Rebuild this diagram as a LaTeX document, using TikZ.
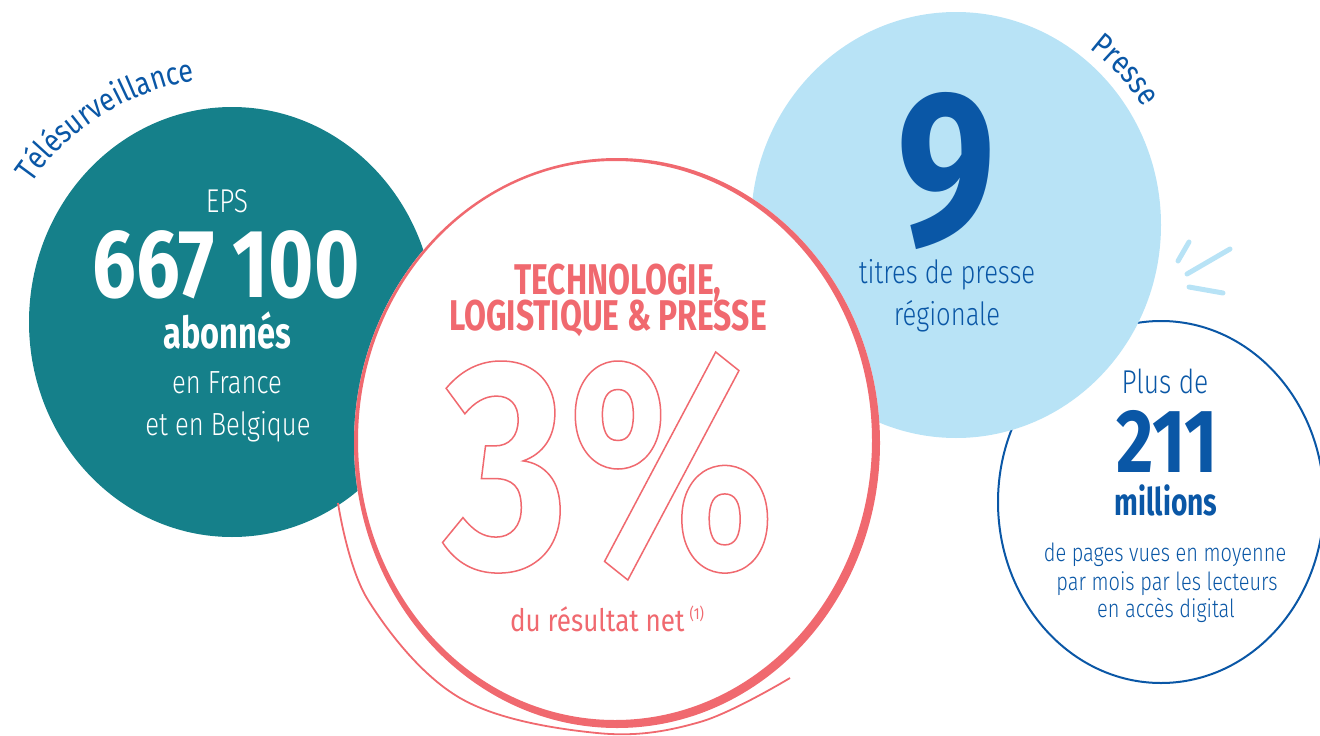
\documentclass[tikz,border=0pt]{standalone}
\usepackage{fontspec}
\setmainfont{Fira Sans}
\newfontfamily\lightfont[FakeStretch=0.80]{Fira Sans Light}
\newfontfamily\heavyfont[FakeStretch=0.74]{Fira Sans Bold}
\newfontfamily\numfont[FakeStretch=0.80]{Fira Sans Bold}
\newfontfamily\handfont[FakeStretch=0.84]{Fira Sans}
\usetikzlibrary{decorations.text}

\definecolor{eteal}{HTML}{15808A}
\definecolor{epink}{HTML}{F0696F}
\definecolor{eblue}{HTML}{0A57A6}
\definecolor{esky}{HTML}{B8E3F6}

% stroked (hollow) glyphs
\newcommand\hollow[1]{\raisebox{0pt}[\height][0pt]{\special{pdf:literal direct 1 Tr 1.5 w}#1\special{pdf:literal direct 0 Tr}}}

\tikzset{
  lighttxt/.style={font=\lightfont\fontsize{#1}{#1}\selectfont, inner sep=0pt, anchor=base},
  heavytxt/.style={font=\heavyfont\fontsize{#1}{#1}\selectfont, inner sep=0pt, anchor=base},
  numtxt/.style={font=\numfont\fontsize{#1}{#1}\selectfont, inner sep=0pt, anchor=base},
  handtxt/.style={font=\handfont\fontsize{#1}{#1}\selectfont, inner sep=0pt, anchor=base},
}

\begin{document}
\begin{tikzpicture}[x=1pt,y=1pt]
    \useasboundingbox (0,0) rectangle (1320,-736);

    % discs
    \draw[eblue, line width=2, fill=white] (1161,-502) ellipse [x radius=163, y radius=181];
    \fill[esky] (956,-225) ellipse [x radius=205, y radius=213];
    \fill[eteal] (232,-322) ellipse [x radius=203, y radius=215];
    \fill[white] (617,-443) ellipse [x radius=263, y radius=285];
    \fill[epink, even odd rule] (617,-443) ellipse [x radius=263, y radius=285]
        (615,-440.5) ellipse [x radius=257, y radius=279.5];
    \draw[epink, line width=1.8] plot[smooth, tension=0.6] coordinates
        {(338,-503) (368,-600) (460,-698) (597,-733) (700,-722) (790,-678)};

    % little strokes
    \draw[esky, line width=5, line cap=round] (1189,-242) -- (1178,-261);
    \draw[esky, line width=5, line cap=round] (1230,-249) -- (1187,-274);
    \draw[esky, line width=5, line cap=round] (1189,-287) -- (1223,-293);

    % curved titles
    \path[decorate, decoration={text along path, text align=center,
        text format delimiters={|}{|},
        text={|\handfont\fontsize{32}{32}\selectfont\color{eblue}|Télésurveillance}}]
        (232,-322) ++(157:244) arc[start angle=157, end angle=87, radius=244];
    \path[decorate, decoration={text along path, text align=center,
        text format delimiters={|}{|},
        text={|\handfont\fontsize{32}{32}\selectfont\color{eblue}|Presse}}]
        (956,-225) ++(70:221) arc[start angle=70, end angle=15, radius=221];

    % EPS
    \node[lighttxt=33, text=white] (eps) at (227,-212) {EPS};
    \node[numtxt=97, text=white] (subs) at (226,-297) {667 100};
    \node[heavytxt=44, text=white] (abon) at (227,-348) {abonnés};
    \node[lighttxt=32, text=white] (fr) at (227,-393) {en France};
    \node[lighttxt=32, text=white] (be) at (228,-435) {et en Belgique};

    % result
    \node[heavytxt=43, text=epink] (tech) at (618,-294) {TECHNOLOGIE,};
    \node[heavytxt=43, text=epink] (logi) at (608,-330) {LOGISTIQUE \& PRESSE};
    \node[numtxt=300, text=epink] (pct) at (609,-568) {\hollow{3\%}};
    \node[handtxt=31, text=epink] (net) at (607,-631)
        {du résultat net\,\raisebox{12pt}{\fontsize{16}{16}\selectfont(1)}};

    % presse
    \node[numtxt=219, text=eblue] (nine) at (947,-243) {9};
    \node[lighttxt=32, text=eblue] (titles) at (947,-283) {titres de presse};
    \node[lighttxt=32, text=eblue] (reg) at (947,-325) {régionale};

    % pages
    \node[lighttxt=33, text=eblue] (plus) at (1165,-393) {Plus de};
    \node[numtxt=90, text=eblue] (views) at (1167,-472) {211};
    \node[heavytxt=38, text=eblue] (mill) at (1166,-515) {millions};
    \node[lighttxt=25, text=eblue] (pg1) at (1165,-561) {de pages vues en moyenne};
    \node[lighttxt=25, text=eblue] (pg2) at (1167,-590) {par mois par les lecteurs};
    \node[lighttxt=25, text=eblue] (pg3) at (1166,-617) {en accès digital};
\end{tikzpicture}
\end{document}
